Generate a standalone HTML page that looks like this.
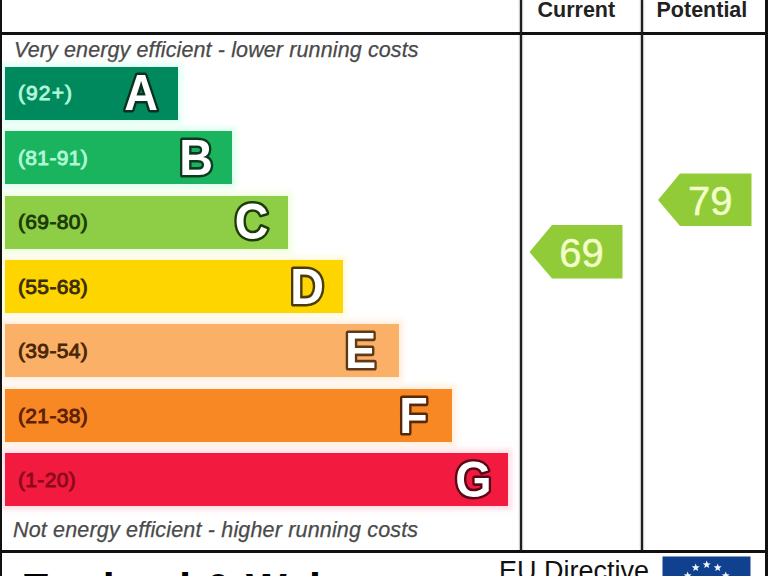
<!DOCTYPE html>
<html><head><meta charset="utf-8">
<style>
html,body{margin:0;padding:0;background:#fff;width:768px;height:576px;overflow:hidden;position:relative;font-family:"Liberation Sans",sans-serif}
.ln{position:absolute;background:#111;z-index:5}
.t{position:absolute;white-space:nowrap;line-height:1}
.bar{position:absolute;left:5px;height:53px}
.rng{position:absolute;left:13px;font-weight:normal;-webkit-text-stroke:0.9px currentColor;font-size:21px;letter-spacing:0.35px;line-height:1;top:15.8px;white-space:nowrap}
svg{position:absolute;left:0;top:0}
</style></head><body><div id="wrap" style="position:absolute;left:0;top:0;width:768px;height:576px">
<!-- grid lines -->
<div class="ln" style="left:0;top:0;width:2.3px;height:576px"></div>
<div class="ln" style="left:0;top:32.4px;width:768px;height:2.4px"></div>
<div class="ln" style="left:0;top:550px;width:768px;height:2.5px"></div>
<div class="ln" style="left:520.4px;top:0;width:2.1px;height:551px;background:#1e1e1e;box-shadow:0 0 1.5px 0.3px rgba(0,0,0,0.55)"></div>
<div class="ln" style="left:641.2px;top:0;width:2.1px;height:551px;background:#1e1e1e;box-shadow:0 0 1.5px 0.3px rgba(0,0,0,0.55)"></div>
<div class="ln" style="left:764.5px;top:0;width:3.5px;height:576px"></div>

<div class="t" style="left:537.5px;top:-0.5px;font-weight:bold;font-size:21.5px;color:#222">Current</div>
<div class="t" style="left:656.5px;top:-0.5px;font-weight:bold;font-size:21.5px;color:#222">Potential</div>

<div class="t" style="left:14px;top:39.5px;font-style:italic;font-size:21.5px;letter-spacing:0.12px;color:#4a4a4a;-webkit-text-stroke:0.25px #4a4a4a">Very energy efficient - lower running costs</div>
<div class="t" style="left:13px;top:519.5px;font-style:italic;font-size:21.5px;letter-spacing:0.17px;color:#4a4a4a;-webkit-text-stroke:0.25px #4a4a4a">Not energy efficient - higher running costs</div>

<div class="bar" style="top:66.5px;width:173px;background:#00895d;box-shadow:0 0 5px 4px rgba(204,254,238,0.6)"><div class="rng" style="color:#b0f8d8;letter-spacing:1.1px;top:15.3px">(92+)</div></div>
<div class="bar" style="top:131px;width:227px;background:#1ab45e;box-shadow:0 0 5px 4px rgba(204,254,226,0.6)"><div class="rng" style="color:#b0f8d8">(81-91)</div></div>
<div class="bar" style="top:195.5px;width:283px;background:#8dce46;box-shadow:0 0 5px 4px rgba(230,254,204,0.6)"><div class="rng" style="color:#1c3a06">(69-80)</div></div>
<div class="bar" style="top:260px;width:338px;background:#ffd500;box-shadow:0 0 5px 4px rgba(254,246,204,0.6)"><div class="rng" style="color:#3a2c02">(55-68)</div></div>
<div class="bar" style="top:324px;width:394px;background:#fbb067;box-shadow:0 0 5px 4px rgba(254,229,204,0.6)"><div class="rng" style="color:#4a2608">(39-54)</div></div>
<div class="bar" style="top:389px;width:447px;background:#f78824;box-shadow:0 0 5px 4px rgba(254,228,204,0.6)"><div class="rng" style="color:#5e1e06">(21-38)</div></div>
<div class="bar" style="top:453px;width:503px;background:#f21b3f;box-shadow:0 0 5px 4px rgba(254,204,212,0.6)"><div class="rng" style="color:#8a0a1c">(1-20)</div></div>

<svg width="768" height="576" viewBox="0 0 768 576">
 <g font-family="Liberation Sans" font-weight="bold" font-size="48.7" text-anchor="middle" fill="#fff" stroke-width="5" paint-order="stroke" stroke-linejoin="round">
  <text transform="translate(141,110.0) scale(0.96,1.03)" stroke="#0c3020">A</text>
  <text transform="translate(196,175.0) scale(0.96,1.03)" stroke="#0c3a20">B</text>
  <text transform="translate(251.5,239.0) scale(0.96,1.03)" stroke="#1e3a0a">C</text>
  <text transform="translate(307,303.5) scale(0.96,1.03)" stroke="#4a3c08">D</text>
  <text transform="translate(360.5,368) scale(0.96,1.03)" stroke="#603a18">E</text>
  <text transform="translate(413.5,432.5) scale(0.96,1.03)" stroke="#582808">F</text>
  <text transform="translate(473.5,497) scale(0.96,1.03)" stroke="#5a0818">G</text>
 </g>
 <polygon points="529.5,252 552,225 622.5,225 622.5,278.5 552,278.5" fill="#91cc38"/>
 <polygon points="658,200 680,173.5 751.5,173.5 751.5,226 680,226" fill="#91cc38"/>
 <g font-family="Liberation Sans" font-size="40" fill="#f2ffc8" stroke="#f2ffc8" stroke-width="0.4" text-anchor="middle">
  <text x="581.5" y="266.5">69</text>
  <text x="710.2" y="215">79</text>
 </g>
 <!-- EU flag -->
 <rect x="662.5" y="556.5" width="88" height="30" fill="#10418f"/>
 <g fill="#f4f6ff">
<polygon points="706.70,560.50 707.76,563.24 710.69,563.40 708.41,565.26 709.17,568.10 706.70,566.50 704.23,568.10 704.99,565.26 702.71,563.40 705.64,563.24"/>
<polygon points="717.70,563.45 718.76,566.19 721.69,566.35 719.41,568.20 720.17,571.05 717.70,569.45 715.23,571.05 715.99,568.20 713.71,566.35 716.64,566.19"/>
<polygon points="725.75,571.50 726.81,574.24 729.75,574.40 727.46,576.26 728.22,579.10 725.75,577.50 723.28,579.10 724.04,576.26 721.76,574.40 724.69,574.24"/>
<polygon points="728.70,582.50 729.76,585.24 732.69,585.40 730.41,587.26 731.17,590.10 728.70,588.50 726.23,590.10 726.99,587.26 724.71,585.40 727.64,585.24"/>
<polygon points="725.75,593.50 726.81,596.24 729.75,596.40 727.46,598.26 728.22,601.10 725.75,599.50 723.28,601.10 724.04,598.26 721.76,596.40 724.69,596.24"/>
<polygon points="717.70,601.55 718.76,604.30 721.69,604.45 719.41,606.31 720.17,609.15 717.70,607.55 715.23,609.15 715.99,606.31 713.71,604.45 716.64,604.30"/>
<polygon points="706.70,604.50 707.76,607.24 710.69,607.40 708.41,609.26 709.17,612.10 706.70,610.50 704.23,612.10 704.99,609.26 702.71,607.40 705.64,607.24"/>
<polygon points="695.70,601.55 696.76,604.30 699.69,604.45 697.41,606.31 698.17,609.15 695.70,607.55 693.23,609.15 693.99,606.31 691.71,604.45 694.64,604.30"/>
<polygon points="687.65,593.50 688.71,596.24 691.64,596.40 689.36,598.26 690.12,601.10 687.65,599.50 685.18,601.10 685.94,598.26 683.65,596.40 686.59,596.24"/>
<polygon points="684.70,582.50 685.76,585.24 688.69,585.40 686.41,587.26 687.17,590.10 684.70,588.50 682.23,590.10 682.99,587.26 680.71,585.40 683.64,585.24"/>
<polygon points="687.65,571.50 688.71,574.24 691.64,574.40 689.36,576.26 690.12,579.10 687.65,577.50 685.18,579.10 685.94,576.26 683.65,574.40 686.59,574.24"/>
<polygon points="695.70,563.45 696.76,566.19 699.69,566.35 697.41,568.20 698.17,571.05 695.70,569.45 693.23,571.05 693.99,568.20 691.71,566.35 694.64,566.19"/>
 </g>
</svg>

<div class="t" style="left:21.5px;top:567px;font-weight:bold;font-size:43px;color:#000">England &amp; Wales</div>
<div class="t" style="left:499px;top:557.5px;font-size:27px;color:#111">EU Directive</div>
</div></body></html>
